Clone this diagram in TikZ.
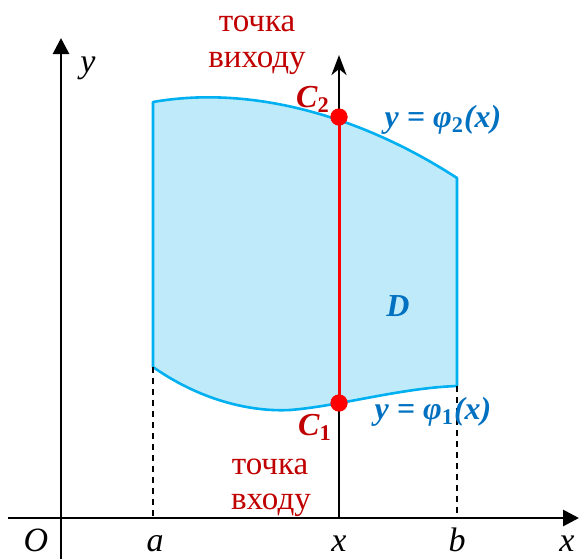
\documentclass[tikz,border=0pt]{standalone}
\usepackage{fontspec}
\setmainfont{Liberation Serif}
\usetikzlibrary{arrows.meta}
\definecolor{regfill}{RGB}{191,234,250}
\definecolor{regline}{RGB}{0,176,240}
\definecolor{lblblue}{RGB}{0,112,192}
\definecolor{txtred}{RGB}{192,0,0}
\newcommand{\subup}[1]{\textsubscript{\upshape #1}}

\begin{document}
\begin{tikzpicture}[
    x=0.5pt, y=-0.5pt,
    axis/.style={line width=1.4pt, -{Triangle[length=8pt, width=8pt]}},
    vline/.style={line width=1.4pt},
    redline/.style={line width=1.5pt, draw=red},
    guide/.style={line width=0.8pt, dash pattern=on 3pt off 2.5pt},
    region/.style={fill=regfill, draw=regline, line width=1.3pt, line join=round},
    dot/.style={circle, fill=red, inner sep=0pt, minimum size=8.5pt},
    lbl/.style={anchor=base, inner sep=0pt, font=\fontsize{17}{20}\selectfont\itshape},
    note/.style={anchor=base, inner sep=0pt, text=txtred, font=\fontsize{16.5}{20}\selectfont},
    ptlbl/.style={anchor=base, inner sep=0pt, text=txtred, font=\fontsize{16}{20}\selectfont\bfseries\itshape},
    curvelbl/.style={anchor=base, inner sep=0pt, text=lblblue, font=\fontsize{16}{20}\selectfont\bfseries\itshape}
]
    \useasboundingbox (0,0) rectangle (579,559);

    % the region D
    \path[region] (153,102) .. controls (250,85) and (360,115) .. (457,178)
        -- (457,386) .. controls (400,388) and (340,406) .. (290,410)
        .. controls (250,412) and (200,400) .. (153,367) -- cycle;

    \coordinate (aTop) at (153,367);
    \coordinate (aAxis) at (153,518);
    \coordinate (bTop) at (457,386);
    \coordinate (bAxis) at (457,518);
    \draw[guide] (aTop) -- (aAxis);
    \draw[guide] (bTop) -- (bAxis);

    % axes
    \coordinate (xstart) at (8,518);
    \coordinate (xend) at (579,518);
    \coordinate (ystart) at (61,559);
    \coordinate (yend) at (61,38);
    \draw[axis] (xstart) -- (xend);
    \draw[axis] (ystart) -- (yend);

    % the line through x
    \coordinate (xbase) at (339,518);
    \coordinate (xtop) at (339,55);
    \node[dot] (C1) at (339,403) {};
    \node[dot] (C2) at (339,117) {};
    \draw[vline] (xbase) -- (C1.center);
    \draw[vline, -{Stealth[length=10pt, width=7.5pt, inset=3pt]}] (C2.center) -- (xtop);
    \draw[redline] (C1.center) -- (C2.center);
    \node[dot] at (C1) {};
    \node[dot] at (C2) {};

    % labels
    \node[lbl] (O) at (36,551) {O};
    \node[lbl] (a) at (155,551) {a};
    \node[lbl] (xx) at (339,551) {x};
    \node[lbl] (b) at (457,551) {b};
    \node[lbl] (xlab) at (567,551) {x};
    \node[lbl] (ylab) at (88,72) {y};

    \node[note] (outA) at (257,31) {точка};
    \node[note] (outB) at (257,67) {виходу};
    \node[note] (inA) at (270,474) {точка};
    \node[note] (inB) at (271,509) {входу};

    \node[ptlbl] (lC2) at (313,107) {C\subup{2}};
    \node[ptlbl] (lC1) at (315,435) {C\subup{1}};
    \node[curvelbl] (phi2) at (443,127) {y = φ\subup{2}(x)};
    \node[curvelbl] (phi1) at (433,419) {y = φ\subup{1}(x)};
    \node[curvelbl] (D) at (398,316) {D};
\end{tikzpicture}
\end{document}
